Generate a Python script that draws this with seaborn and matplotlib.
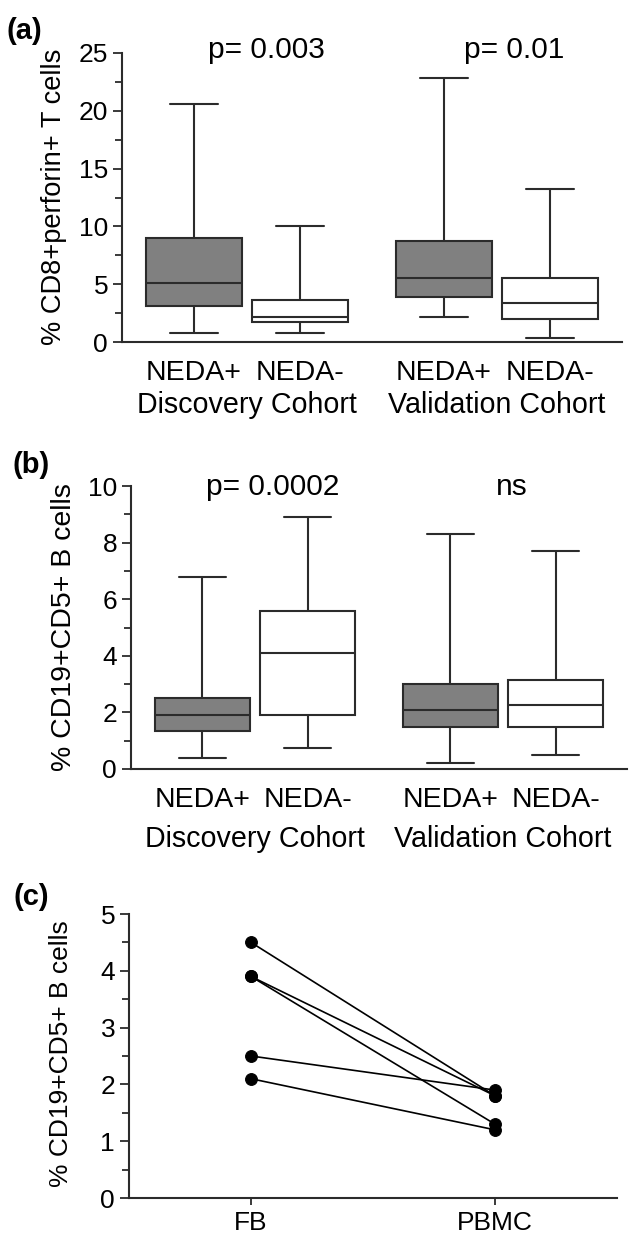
import matplotlib
matplotlib.use('Agg')
from matplotlib import pyplot as plt
from matplotlib.ticker import MultipleLocator
import pandas as pd
import seaborn as sns

# box summaries: min, q1, median, q3, max
cohorts = ['Discovery', 'Validation']
groups = ['NEDA+', 'NEDA-']

perforin_disc_pos = [0.8, 3.1, 5.1, 9.0, 20.6]
perforin_disc_neg = [0.8, 1.7, 2.2, 3.6, 10.0]
perforin_val_pos = [2.2, 3.9, 5.5, 8.7, 22.8]
perforin_val_neg = [0.35, 2.0, 3.4, 5.5, 13.2]

cd5_disc_pos = [0.4, 1.35, 1.9, 2.5, 6.8]
cd5_disc_neg = [0.75, 1.9, 4.1, 5.6, 8.9]
cd5_val_pos = [0.2, 1.5, 2.1, 3.0, 8.3]
cd5_val_neg = [0.5, 1.5, 2.25, 3.15, 7.7]

# paired samples (panel c)
sites = ['FB', 'PBMC']
fb_values = [4.5, 3.9, 3.9, 2.5, 2.1]
pbmc_values = [1.8, 1.8, 1.3, 1.9, 1.2]

pvals_a = ['p= 0.003', 'p= 0.01']
pvals_b = ['p= 0.0002', 'ns']


def box_frame(disc_pos, disc_neg, val_pos, val_neg):
    rows = []
    for cohort, group, vals in [('Discovery', 'NEDA+', disc_pos), ('Discovery', 'NEDA-', disc_neg),
                                ('Validation', 'NEDA+', val_pos), ('Validation', 'NEDA-', val_neg)]:
        for v in vals:
            rows.append({'cohort': cohort, 'group': group, 'pct': v})
    return pd.DataFrame(rows)


df_a = box_frame(perforin_disc_pos, perforin_disc_neg, perforin_val_pos, perforin_val_neg)
df_b = box_frame(cd5_disc_pos, cd5_disc_neg, cd5_val_pos, cd5_val_neg)
df_c = pd.DataFrame({'pair': list(range(len(fb_values))) * 2,
                     'site': [sites[0]] * len(fb_values) + [sites[1]] * len(pbmc_values),
                     'pct': fb_values + pbmc_values})

sns.set_style("ticks")
plt.rcParams['font.family'] = ['Liberation Sans', 'DejaVu Sans']
plt.rcParams['text.color'] = 'black'
plt.rcParams['xtick.color'] = 'black'
plt.rcParams['ytick.color'] = 'black'

LC = '#2b2b2b'
W, H = 633, 1235


def rect(l, t, r, b):
    return [l / W, 1 - b / H, (r - l) / W, (b - t) / H]


fig = plt.figure(figsize=(W / 100, H / 100), dpi=100)
ax_a = fig.add_axes(rect(122, 53, 622, 342))
ax_b = fig.add_axes(rect(131, 486, 627, 769))
ax_c = fig.add_axes(rect(129, 914, 617, 1198))

box_kws = dict(x='cohort', y='pct', hue='group', order=cohorts, hue_order=groups,
               palette={'NEDA+': '#808080', 'NEDA-': 'white'}, saturation=1,
               width=0.85, gap=0.1, whis=(0, 100), linecolor=LC, linewidth=1.5,
               fliersize=0, legend=False)

sns.boxplot(data=df_a, ax=ax_a, **box_kws)
sns.boxplot(data=df_b, ax=ax_b, **box_kws)

sns.lineplot(data=df_c, x='site', y='pct', units='pair', estimator=None, sort=False,
             color='black', lw=1.2, marker='o', markersize=8.5, markeredgecolor='black',
             ax=ax_c)

box_ticks = [-0.2125, 0.2125, 0.7875, 1.2125]
for ax, ymax, major, minor in [(ax_a, 25, 5, 2.5), (ax_b, 10, 2, 1), (ax_c, 5, 1, 0.5)]:
    ax.set_ylim(0, ymax)
    ax.set_xlim(-0.5, 1.5)
    ax.yaxis.set_major_locator(MultipleLocator(major))
    ax.yaxis.set_minor_locator(MultipleLocator(minor))
    ax.set_xlabel('')
    ax.set_ylabel('')
    sns.despine(ax=ax)
    for s in ['left', 'bottom']:
        ax.spines[s].set_linewidth(1.5)
        ax.spines[s].set_color(LC)
    ax.tick_params(axis='y', which='major', length=6.5, width=1.3, color=LC, pad=3.5, labelsize=19)
    ax.tick_params(axis='y', which='minor', length=5, width=1.3, color=LC)

for ax in [ax_a, ax_b]:
    ax.set_xticks(box_ticks)
    ax.set_xticklabels(groups * 2)
    ax.tick_params(axis='x', length=0, pad=13, labelsize=20.5)

ax_c.set_xticks([0, 1])
ax_c.set_xticklabels(sites)
ax_c.tick_params(axis='x', length=5, width=1.3, color=LC, pad=4, labelsize=19)

# cohort names under each pair of boxes
for ax, y in [(ax_a, -0.2457), (ax_b, -0.2756)]:
    for i, c in enumerate(cohorts):
        ax.text(i, y, c + ' Cohort', transform=ax.get_xaxis_transform(),
                ha='center', va='baseline', fontsize=20.6)

# p-values
for ax, labels, xs, y in [(ax_a, pvals_a, [0.076, 1.068], 0.983),
                          (ax_b, pvals_b, [0.073, 1.036], 0.968)]:
    for x, t in zip(xs, labels):
        ax.text(x, y, t, transform=ax.get_xaxis_transform(), ha='center',
                va='baseline', fontsize=21.5, clip_on=False)

# axis titles and panel letters
fig.text(54 / W, 1 - 197 / H, '% CD8+perforin+ T cells', rotation=90, ha='center', va='center', fontsize=19.6)
fig.text(64 / W, 1 - 627 / H, '% CD19+CD5+ B cells', rotation=90, ha='center', va='center', fontsize=20.5)
fig.text(61 / W, 1 - 1054 / H, '% CD19+CD5+ B cells', rotation=90, ha='center', va='center', fontsize=19)

for lbl, x, y in [('(a)', 24, 31), ('(b)', 31, 465), ('(c)', 31, 897)]:
    fig.text(x / W, 1 - y / H, lbl, ha='center', va='center', fontsize=21, fontweight='bold')

fig.savefig('out.png', dpi=100)
